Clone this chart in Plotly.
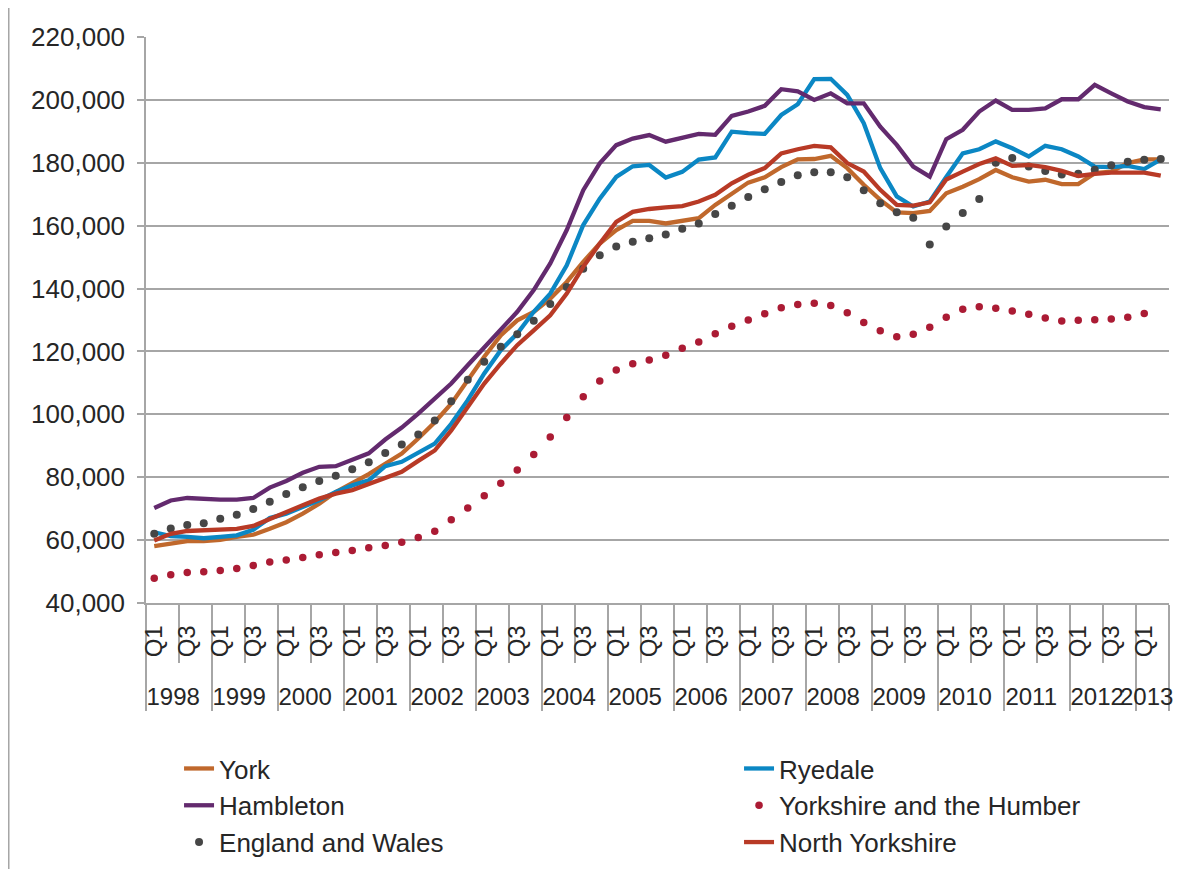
import plotly.graph_objects as go

NB = "\u00a0"

# quarterly average house prices, 1998 Q1 .. 2013 Q2
year_nums = [y for y in range(1998, 2014) for _ in range(4)][:62]
# leading no-break spaces nudge the year row towards the centre of each year block
years = [NB * 2 + str(y) for y in year_nums]
# only Q1 and Q3 are labelled; the leading no-break spaces push the year row down
quarters = ([NB * 2 + "Q1", NB, NB * 2 + "Q3", NB * 3] * 16)[:62]

york = [58100, 58800, 59700, 59700, 60100, 61000, 61700, 63600, 65700, 68400,
        71600, 75300, 78000, 81000, 84300, 87500, 92300, 97500, 103400, 111000,
        118300, 125100, 129900, 132600, 136800, 142100, 148500, 154300, 158600, 161500,
        161500, 160700, 161500, 162400, 166600, 170300, 173700, 175400, 178600, 181100,
        181200, 182200, 178300, 173000, 168200, 164200, 164000, 164700, 170300, 172400,
        174800, 177700, 175400, 174000, 174600, 173200, 173200, 176700, 177200, 179900,
        181100, 181100]

ryedale = [62500, 61300, 61000, 60600, 61000, 61500, 63300, 67000, 68400, 70500,
           72700, 75300, 77400, 79000, 83500, 84900, 87800, 90700, 97000, 104500,
           113000, 120400, 125700, 132600, 138400, 147400, 160200, 168600, 175500, 178900,
           179300, 175300, 177100, 181000, 181700, 189900, 189400, 189200, 195200, 198600,
           206600, 206700, 201600, 192600, 178300, 169300, 166100, 167700, 175500, 183000,
           184300, 186800, 184600, 182000, 185400, 184300, 182000, 178800, 178600, 179000,
           178000, 181100]

hambleton = [70200, 72600, 73400, 73000, 72900, 72900, 73400, 76700, 78800, 81400,
             83300, 83500, 85400, 87600, 92000, 95800, 100200, 104800, 109800, 115600,
             121400, 127000, 132600, 139500, 148000, 158600, 171300, 179800, 185600, 187700,
             188800, 186700, 188100, 189200, 188900, 194900, 196300, 198100, 203400, 202700,
             200000, 202100, 198900, 198900, 191500, 185700, 178800, 175600, 187500, 190500,
             196300, 199800, 196800, 196800, 197300, 200200, 200200, 204800, 202100, 199500,
             197700, 197000]

yorks_humber = [47900, 48950, 49700, 49950, 50350, 50950, 51900, 53000, 53700, 54450,
                55350, 56050, 56700, 57600, 58300, 59300, 60800, 62800, 66500, 70200,
                74100, 78100, 82300, 87200, 92800, 99000, 105600, 110600, 114100, 116100,
                117300, 118800, 121000, 123000, 125600, 128000, 130000, 132000, 133900, 134900,
                135300, 134600, 132300, 129200, 126600, 124700, 125500, 127700, 130900, 133400,
                134200, 133700, 132900, 131800, 130600, 129700, 129900, 130100, 130300, 130900,
                132100, None]

eng_wales = [62000, 63700, 64800, 65400, 66800, 68100, 69900, 72200, 74700, 76800,
             78800, 80500, 82500, 84800, 87700, 90400, 93600, 98000, 104200, 111000,
             116700, 121500, 125500, 129800, 135100, 140500, 146300, 150600, 153400, 154900,
             156000, 157200, 159000, 160700, 163700, 166300, 169100, 171600, 173900, 176000,
             177000, 177000, 175400, 171300, 167100, 164300, 162500, 154000, 159700, 164000,
             168500, 180000, 181500, 178800, 177400, 176300, 176500, 177800, 179200, 180300,
             181000, 181200]

north_yorks = [59900, 62000, 62900, 63100, 63300, 63600, 64500, 66800, 68900, 71100,
               73200, 74800, 75900, 77800, 79600, 81700, 85200, 88500, 94900, 102300,
               109800, 116100, 122000, 126700, 131500, 138400, 146900, 154300, 161200, 164400,
               165300, 165800, 166200, 167700, 169800, 173500, 176200, 178300, 183000, 184300,
               185400, 184900, 179900, 177200, 171400, 166600, 166400, 167400, 174700, 177200,
               179600, 181400, 179000, 179300, 178600, 177400, 175800, 176500, 176900, 176900,
               176900, 175900]

GRID = "#a6a6a6"
TEXT = "#262626"
FONT = "Liberation Sans, Arial, sans-serif"

x = [years, quarters]

fig = go.Figure()

# left legend column: York, Hambleton, England and Wales
# right legend column: Ryedale, Yorkshire and the Humber, North Yorkshire
fig.add_trace(go.Scatter(x=x, y=york, name="York", mode="lines", legend="legend",
                         line=dict(color="#c0682c", width=4.3)))
fig.add_trace(go.Scatter(x=x, y=ryedale, name="Ryedale", mode="lines", legend="legend2",
                         line=dict(color="#0b87c4", width=4.3)))
fig.add_trace(go.Scatter(x=x, y=hambleton, name="Hambleton", mode="lines", legend="legend",
                         line=dict(color="#632a6e", width=4.3)))
fig.add_trace(go.Scatter(x=x, y=yorks_humber, name="Yorkshire and the Humber", mode="markers",
                         legend="legend2", marker=dict(color="#ab1b34", size=7.5)))
fig.add_trace(go.Scatter(x=x, y=eng_wales, name="England and Wales", mode="markers",
                         legend="legend", marker=dict(color="#464646", size=8)))
fig.add_trace(go.Scatter(x=x, y=north_yorks, name="North Yorkshire", mode="lines",
                         legend="legend2", line=dict(color="#b83a26", width=4.3)))

# outer chart border (crop of the original chart box)
fig.add_shape(type="rect", xref="paper", yref="paper",
              x0=-0.1344, x1=1.0274, y0=-0.489, y1=1.083,
              line=dict(color=GRID, width=2))

legend_style = dict(orientation="v", xanchor="left", yanchor="top", itemwidth=30,
                    font=dict(size=26, color=TEXT), bgcolor="rgba(0,0,0,0)",
                    traceorder="normal")

fig.update_layout(
    width=1196, height=861,
    margin=dict(l=138, r=35, t=29, b=266, autoexpand=False),
    paper_bgcolor="white", plot_bgcolor="white",
    font=dict(family=FONT, size=26, color=TEXT),
    showlegend=True,
    legend=dict(x=0.0323, y=-0.251, **legend_style),
    legend2=dict(x=0.5797, y=-0.251, **legend_style),
)

fig.update_yaxes(range=[40000, 220000], dtick=20000, tickformat=",",
                 showgrid=True, gridcolor=GRID, gridwidth=1.5,
                 showline=True, linecolor=GRID, linewidth=1.5,
                 ticks="outside", ticklen=7, tickcolor=GRID, tickwidth=1.5,
                 ticklabelstandoff=7, automargin=False,
                 tickfont=dict(size=26, color=TEXT), zeroline=False)

fig.update_xaxes(type="multicategory", range=[-0.5, len(years) - 0.5], showgrid=False,
                 showline=True, linecolor=GRID, linewidth=1.5,
                 ticks="outside", tickson="boundaries", ticklen=58,
                 tickcolor=GRID, tickwidth=1.5, ticklabelstandoff=11,
                 showdividers=True, dividercolor=GRID, dividerwidth=1.5,
                 automargin=False,
                 tickangle=-90, tickfont=dict(size=24, color=TEXT))

fig.write_html("out.html")
